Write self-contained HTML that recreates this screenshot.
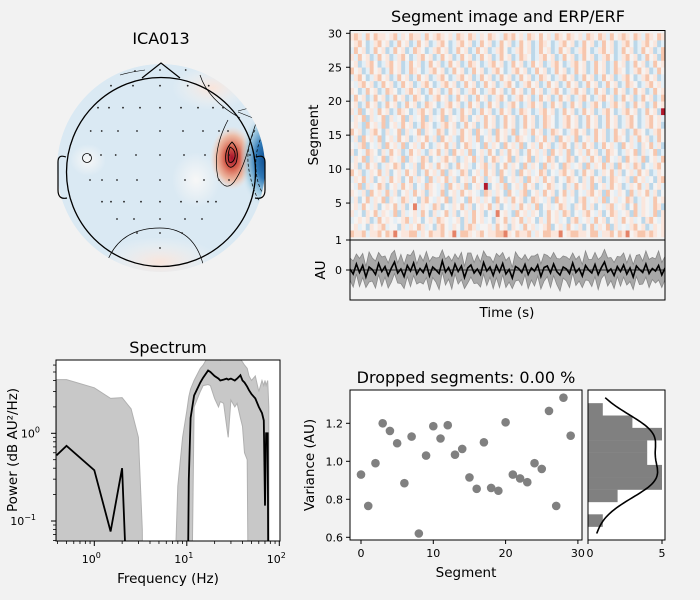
<!DOCTYPE html>
<html><head><meta charset="utf-8"><style>
html,body{margin:0;padding:0;background:#f2f2f2;overflow:hidden;width:700px;height:600px;}
svg{display:block;font-family:"DejaVu Sans","Liberation Sans",sans-serif;}
</style></head><body>
<svg id="fig" width="700" height="600" viewBox="0 0 700 600" xmlns="http://www.w3.org/2000/svg">
<rect width="700" height="600" fill="#f2f2f2"/>
<defs>
  <clipPath id="headClip"><circle cx="161" cy="168" r="104"/></clipPath>
  <clipPath id="specClip"><rect x="56" y="360" width="224" height="181"/></clipPath>
  <clipPath id="erpClip"><rect x="350" y="240" width="315" height="60"/></clipPath>
  <radialGradient id="gRed"><stop offset="0" stop-color="#a50f2a"/><stop offset="0.35" stop-color="#d6604d"/><stop offset="0.7" stop-color="#f4a582" stop-opacity="0.7"/><stop offset="1" stop-color="#fddbc7" stop-opacity="0"/></radialGradient>
  <radialGradient id="gBlue"><stop offset="0" stop-color="#0b4a8c"/><stop offset="0.4" stop-color="#2f79b7"/><stop offset="0.75" stop-color="#92c5de" stop-opacity="0.7"/><stop offset="1" stop-color="#d1e5f0" stop-opacity="0"/></radialGradient>
  <radialGradient id="gPink"><stop offset="0" stop-color="#f9e4da"/><stop offset="1" stop-color="#f7f7f7" stop-opacity="0"/></radialGradient>
  <radialGradient id="gWhite"><stop offset="0" stop-color="#f7f7f7"/><stop offset="1" stop-color="#f7f7f7" stop-opacity="0"/></radialGradient>
</defs>

<g>
  <text x="161" y="44" font-size="16" text-anchor="middle" fill="#000">ICA013</text>
  <g clip-path="url(#headClip)">
    <circle cx="161" cy="168" r="104" fill="#dae9f3"/>
    <ellipse cx="160" cy="262" rx="60" ry="25" fill="url(#gPink)"/>
    <ellipse cx="212" cy="88" rx="40" ry="22" fill="url(#gPink)"/>
    <ellipse cx="88" cy="160" rx="18" ry="16" fill="url(#gWhite)"/>
    <ellipse cx="196" cy="180" rx="24" ry="28" fill="url(#gWhite)"/>
    <ellipse cx="232" cy="158" rx="22" ry="32" fill="url(#gRed)"/>
    <ellipse cx="266" cy="160" rx="26" ry="48" fill="url(#gBlue)"/>
    <path d="M232,142 Q224,150 226,162 Q230,172 236,163 Q240,150 232,142Z" fill="none" stroke="#000" stroke-width="0.9"/>
    <path d="M230,147 Q227,155 229,162 Q233,164 235,157 Q236,150 230,147Z" fill="none" stroke="#000" stroke-width="0.9"/>
    <path d="M228,120 Q212,150 218,178 Q226,192 234,182 Q244,168 250,142 Q254,128 258,118" fill="none" stroke="#000" stroke-width="0.7"/>
    <path d="M255,130 Q244,150 250,175 Q254,195 262,205" fill="none" stroke="#000" stroke-width="0.7" stroke-dasharray="3,2"/>
    <path d="M262,135 Q252,158 258,182 Q262,196 270,200" fill="none" stroke="#000" stroke-width="0.7" stroke-dasharray="3,2"/>
    <path d="M200,75 Q208,100 240,118" fill="none" stroke="#000" stroke-width="0.7"/>
    <path d="M107,262 Q120,228 160,228 Q195,228 204,268" fill="none" stroke="#000" stroke-width="0.7"/>
    <path d="M238,111 L249,108 M238,112 L253,118" fill="none" stroke="#000" stroke-width="0.6"/>
    <path d="M120,75 Q130,72 145,70" fill="none" stroke="#000" stroke-width="0.6"/>
  </g>
  <circle cx="87" cy="158" r="4.5" fill="none" stroke="#000" stroke-width="0.8"/>
  <circle cx="161" cy="172" r="94.5" fill="none" stroke="#000" stroke-width="1.3"/>
  <path d="M142,78 L161,63 L180,78" fill="none" stroke="#000" stroke-width="1.2"/>
  <path d="M66,157 Q58,154 58,162 L58,190 Q58,200 67,198" fill="none" stroke="#000" stroke-width="1.2"/>
  <path d="M256,157 Q265,154 265,162 L265,190 Q265,200 255,198" fill="none" stroke="#000" stroke-width="1.2"/>
  <g id="sensors"></g>
</g>

<g>
  <text x="508" y="22" font-size="16" text-anchor="middle">Segment image and ERP/ERF</text>
  <g id="img"></g>
  <rect x="350" y="30.5" width="315" height="209.5" fill="none" stroke="#000" stroke-width="1"/>
  <g id="imgTicks" font-size="11"></g>
  <text transform="translate(318,135) rotate(-90)" font-size="13.5" text-anchor="middle">Segment</text>
  <g id="erp"></g>
  <rect x="350" y="240" width="315" height="60" fill="none" stroke="#000" stroke-width="1"/>
  <line x1="346" y1="270" x2="350" y2="270" stroke="#000"/>
  <text x="342" y="274" font-size="11" text-anchor="end">0</text>
  <text transform="translate(325,270) rotate(-90)" font-size="13.5" text-anchor="middle">AU</text>
  <text x="507" y="317" font-size="13.5" text-anchor="middle">Time (s)</text>
</g>

<g>
  <text x="168" y="353" font-size="16" text-anchor="middle">Spectrum</text>
  <rect x="56" y="360" width="224" height="181" fill="#fff"/>
  <g id="spec" clip-path="url(#specClip)"></g>
  <rect x="56" y="360" width="224" height="181" fill="none" stroke="#000" stroke-width="1"/>
  <g id="specTicks" font-size="11"></g>
  <text x="168" y="583" font-size="13.5" text-anchor="middle">Frequency (Hz)</text>
  <text transform="translate(17,450) rotate(-90)" font-size="13.5" text-anchor="middle">Power (dB AU²/Hz)</text>
</g>

<g>
  <text x="466" y="383" font-size="16" text-anchor="middle">Dropped segments: 0.00 %</text>
  <rect x="350" y="390" width="232" height="150" fill="#fff" stroke="#000" stroke-width="1"/>
  <g id="scatter"></g>
  <g id="scatterTicks" font-size="11"></g>
  <text x="466" y="577" font-size="13.5" text-anchor="middle">Segment</text>
  <text transform="translate(314,465) rotate(-90)" font-size="13.5" text-anchor="middle">Variance (AU)</text>
  <rect x="588" y="390" width="77" height="150" fill="#fff"/>
  <g id="hist"></g>
  <rect x="588" y="390" width="77" height="150" fill="none" stroke="#000" stroke-width="1"/>
  <g id="histTicks" font-size="11"></g>
</g>
</svg>
<script>
const NS="http://www.w3.org/2000/svg";
function mk(tag,attrs,parent){const e=document.createElementNS(NS,tag);for(const k in attrs)e.setAttribute(k,attrs[k]);parent.appendChild(e);return e;}

const sensorX=[160,185.7,135, 111,133,160,187.7,208.7, 98,109,123,140,160,181,198,213,223, 90.7,101.7,118,137,160,183,203,219,228, 90,101,115.7,136,160,184,205,229,250, 90,102,117,137,160,185,204,219,229, 102,111,124,141,160,181,197,208,216, 117,134,160,185,202, 137,160,182, 160];
const sensorY=[70,70,71, 85.7,85.7,85.7,85.7,85.7, 107.7,107.7,107.7,107.7,107.7,107.7,107.7,107.7,107.7, 131,131,131,131,131,131,131,131,131, 155,155,155,155,155,155,155,155,155, 180,180,180,180,180,180,180,180,180, 201.7,201.7,201.7,201.7,201.7,201.7,201.7,201.7,201.7, 219,219,219,219,219, 233,233,233, 248];
const sg=document.getElementById('sensors');
for(let i=0;i<sensorX.length;i++){
  const c=mk('circle',{cx:sensorX[i],cy:sensorY[i],r:0.9,fill:'#222'},sg);
  
  
}

const imgRows=[
"65563556465745566354655645736654564556675465563546655745665546635564657456656545",
"45342545634425354653425643542565344536452543645345624536435246354625343564523545",
"34545236454345635424536543452536453425463546354253645342563453645245364534256435",
"53425463543625345364253463524536452437453264535423645365243564352465345263543625",
"45364352454635247354365243546352454635243536453624534653254635243563452463543652",
"35246354625436534256435462534264535426453645236543526453425634536245346523543645",
"54352645363524536452543624536454326535426435624536452463524356452643542635463524",
"43625346524536452436543526453624538245362453645234653425364536245364523546352453",
"35463524536452463542635463524536452543624535264536452436542536452365435264534256",
"64523546352453645236453625436524536452643526453465243564523645235463524536452354",
"45236452354652435264536452364532456352463542635426354265345263546352645365243564",
"35462534625436254365243564523546352465346253462534652436524536452643526453624536",
"52436542536452364532546352645362453642536452364535264536245364523654235462534623",
"43562435264536245364235463524653426354264536245364523564253645236453264532546352",
"35264536245364523546352645326453624536452365432546352645362453645236542536452364",
"64523564253462534625436524536452643526453624536452365423564523645236452365423564",
"45326453624536452365423564523645236452364523645236542356452364523645235642356452",
"35462534625346253462534625436524536452364523645236542356452364523645235642356453",
"53624536452365423564523645236452364523645236542356452364523645235642356452364528",
"45236452364523645236542356452364523645235642356452364523645235642356452364523645",
"36452364523645236542356452364523645235642356452364523645235642356452364523645236",
"54236452365423564523645236452356423564523645236452356423564523645236452364523645",
"43564523645236452356423564523645236452356423564523645236452364523645236542356453",
"35642356452364523645235642356452364523645236452365423564523645236452356423564523",
"64523645236452365423564523645236452356423564523645236452364523645236542356452364",
"45235642356452364523645236452365423564523645236452356423564523645236452364523645",
"53645236452356423564523645236452364523645236542356452364523645235642356452364526",
"36452364523645236542356452364523645235642356452364523645235642356452364523645236",
"45642356452364523645235642356452364523645236452365423564523645236452356423564523",
"56536465545635465536456545365465354654365645365464536546545365465364565465365465"
];
const cmap=['#3a7fb9','#6aaed6','#bcd8ea','#e4eff6','#f5f3f2','#fbe6dc','#f7c6ad','#e58267','#b2182b'];
const segTicks=[1,5,10,15,20,25,30];
function ySeg(v){return 237-6.79*v;}
const ig=document.getElementById('img');
for(let r=0;r<imgRows.length;r++){
  const s=imgRows[r], n=s.length, w=315/n;
  const y0=ySeg(r+1), y1=ySeg(r);
  for(let c=0;c<n;c++){
    const rc=mk('rect',{x:350+c*w,y:y0,width:w+0.3,height:y1-y0+0.3,fill:cmap[+s[c]]},ig);
    
    
  }
}
const it=document.getElementById('imgTicks');
segTicks.forEach(v=>{
  const y=v===1?240:ySeg(v);
  mk('line',{x1:346,y1:y,x2:350,y2:y,stroke:'#000'},it);
  const t=mk('text',{x:342,y:y+4,'text-anchor':'end'},it);
  t.textContent=v;
  
  
});

const erpMean=[0.2,-0.8,1.2,-0.5,0.9,-1.4,0.6,0.1,-0.9,1.3,-0.3,0.7,-1.1,0.4,1.6,-0.6,0.2,-1.3,0.9,-0.2,1.4,-0.8,0.3,-0.5,1.1,-1.2,0.6,0.0,-0.7,1.8,-0.4,0.5,-1.0,1.2,-0.3,0.8,-1.5,0.4,1.0,-0.6,0.2,-0.9,1.5,-0.2,0.6,-1.1,0.9,-0.4,1.3,-0.8,0.1,-1.6,0.7,0.3,-0.5,1.1,-0.9,0.4,-0.2,1.0,-1.3,0.5,0.8,-0.6,1.2,-0.3,-1.0,0.6,0.2,-0.7,1.4,-0.5,0.3,-1.2,0.9,0.0,-0.6,1.1,-0.9,0.5,1.6,-0.4,0.2,-1.1,0.7,-0.3,1.0,-0.8,0.4,-1.4,0.8,0.1,-0.5,1.2,-0.7,0.3,-0.2,0.9,-1.0,0.4];
const erpSpread=[2.2,2.6,2.0,2.8,2.4,2.1,3.0,2.3,2.7,2.2,2.9,2.1,2.5,2.8,2.3,2.0,2.9,2.4,2.2,3.1,2.5,2.0,2.7,2.3,2.6,2.9,2.1,2.4,3.2,2.2,2.6,2.3,2.8,2.0,2.5,2.7,2.2,3.0,2.4,2.1,2.8,2.5,2.3,2.9,2.0,2.6,2.4,3.1,2.2,2.7,2.5,2.1,2.9,2.3,2.6,2.0,2.8,2.4,3.0,2.2,2.5,2.7,2.1,2.9,2.3,2.6,3.2,2.2,2.4,2.8,2.0,2.6,2.5,2.3,2.9,2.1,2.7,2.4,3.0,2.2,2.5,2.8,2.3,2.6,2.0,2.9,2.4,2.2,2.7,2.5,2.1,3.0,2.3,2.6,2.8,2.2,2.4,2.9,2.5,2.3];
function xErp(i){return 350+315*i/(erpMean.length-1);}
function yErp(v){return 270-v*5;}
const eg=document.getElementById('erp');
eg.setAttribute('clip-path','url(#erpClip)');
let up='',lo='';
erpMean.forEach((v,i)=>{up+=(i?'L':'M')+xErp(i).toFixed(1)+','+yErp(v+erpSpread[i]).toFixed(1);});
for(let i=erpMean.length-1;i>=0;i--)lo+='L'+xErp(i).toFixed(1)+','+yErp(erpMean[i]-erpSpread[i]).toFixed(1);
const band=mk('path',{d:up+lo+'Z',fill:'#a8a8a8',stroke:'#888','stroke-width':0.8},eg);


mk('line',{x1:350,y1:270,x2:665,y2:270,stroke:'#000','stroke-width':0.8},eg);
const el=mk('path',{d:erpMean.map((v,i)=>(i?'L':'M')+xErp(i).toFixed(1)+','+yErp(v).toFixed(1)).join(''),fill:'none',stroke:'#000','stroke-width':1.6},eg);



const specFreq=[0.39,0.5,1.0,1.5,2.0,2.5,3.0,3.3,3.4, 7.4,7.6,8,9,10,10.5,11,12,14,15,17,18,20,22,23,25,27,28,30,33,35,38,40,42,45,47,50,55,60,65,68,70,72,75,77,78,79];
const specMean=[0.56,0.72,0.38,0.076,0.40,0.001,0.001,0.001,0.001, 0.001,0.001,0.001,0.001,0.001,0.3,1.5,2.7,3.8,4.3,5.2,5.0,4.5,4.2,4.0,4.1,4.2,4.1,4.2,4.0,4.2,4.6,4.0,3.8,3.4,3.1,2.8,2.5,2.0,1.7,1.4,0.15,1.0,1.0,0.001,0.001,0.001];
const specUpper=[4.1,4.1,3.3,2.5,2.55,1.9,0.9,0.08,0.001, 0.001,0.05,0.25,0.9,1.8,2.6,3.2,4.0,5.5,6.0,7.5,7.5,7.2,7.0,6.8,7.0,7.3,7.0,7.2,7.0,7.4,7.0,6.5,6.0,5.5,4.5,4.0,4.5,3.0,4.0,3.5,4.0,3.5,4.0,2.0,0.001,0.001];
const specLower=[0.001,0.001,0.001,0.001,0.001,0.001,0.001,0.001,0.001, 0.001,0.001,0.001,0.001,0.001,0.001,0.001,2.0,3.0,3.5,3.6,3.5,2.5,2.0,2.3,2.2,1.2,0.9,2.4,2.0,2.2,1.5,1.2,0.6,0.5,0.001,0.001,0.001,0.001,0.001,0.001,0.001,0.001,0.001,0.001,0.001,0.001];
const xTicksSpec=[1,10,100];
const xTickLabSpec=['0','1','2'];
const yTicksSpec=[1,0.1];
const yTickLabSpec=['0','−1'];
function xSpec(f){return 94.3+92.5*Math.log10(f);}
function ySpec(p){return 433.3-87.7*Math.log10(p);}
const spg=document.getElementById('spec');
let sd='';
specFreq.forEach((f,i)=>{sd+=(i?'L':'M')+xSpec(f).toFixed(1)+','+ySpec(specUpper[i]).toFixed(1);});
for(let i=specFreq.length-1;i>=0;i--)sd+='L'+xSpec(specFreq[i]).toFixed(1)+','+ySpec(specLower[i]).toFixed(1);
const sband=mk('path',{d:sd+'Z',fill:'#c8c8c8',stroke:'#b0b0b0','stroke-width':1},spg);


const sl=mk('path',{d:specFreq.map((f,i)=>(i?'L':'M')+xSpec(f).toFixed(1)+','+ySpec(specMean[i]).toFixed(1)).join(''),fill:'none',stroke:'#000','stroke-width':1.8},spg);


const stg=document.getElementById('specTicks');
xTicksSpec.forEach((f,i)=>{
  const x=xSpec(f);
  mk('line',{x1:x,y1:541,x2:x,y2:546,stroke:'#000'},stg);
  const t=mk('text',{x:x-3,y:563,'text-anchor':'middle'},stg);
  t.innerHTML='10<tspan dy="-5" font-size="8">'+xTickLabSpec[i]+'</tspan>';
  
  
});
for(let d=-1;d<2;d++){for(let m=2;m<10;m++){const x=xSpec(m*Math.pow(10,d));if(x>56&&x<280)mk('line',{x1:x,y1:541,x2:x,y2:544,stroke:'#000','stroke-width':0.8},stg);}}
yTicksSpec.forEach((p,i)=>{
  const y=ySpec(p);
  mk('line',{x1:51,y1:y,x2:56,y2:y,stroke:'#000'},stg);
  const t=mk('text',{x:i?36:40,y:y+4,'text-anchor':'end'},stg);
  t.innerHTML='10<tspan dy="-5" font-size="8">'+yTickLabSpec[i]+'</tspan>';
  
  
});
for(let d=-2;d<1;d++){for(let m=2;m<10;m++){const y=ySpec(m*Math.pow(10,d));if(y>360&&y<541)mk('line',{x1:53,y1:y,x2:56,y2:y,stroke:'#000','stroke-width':0.8},stg);}}

const segIdx=[0,1,2,3,4,5,6,7,8,9,10,11,12,13,14,15,16,17,18,19,20,21,22,23,24,25,26,27,28,29];
const segVar=[0.93,0.765,0.99,1.2,1.16,1.095,0.885,1.13,0.62,1.03,1.185,1.12,1.19,1.035,1.065,0.915,0.855,1.1,0.86,0.845,1.205,0.93,0.91,0.89,0.99,0.96,1.265,0.765,1.335,1.135];
const varTicks=[0.6,0.8,1.0,1.2];
const varTickLab=['0.6','0.8','1.0','1.2'];
const segXTicks=[0,10,20,30];
function xS(v){return 361+7.23*v;}
function yV(v){return 423.3-(v-1.2)*190;}
const scg=document.getElementById('scatter');
segIdx.forEach((s,i)=>{
  const c=mk('circle',{cx:xS(s),cy:yV(segVar[i]),r:4.3,fill:'#808080'},scg);
  
  
});
const stk=document.getElementById('scatterTicks');
varTicks.forEach((v,i)=>{
  const y=yV(v);
  mk('line',{x1:346,y1:y,x2:350,y2:y,stroke:'#000'},stk);
  const t=mk('text',{x:343,y:y+4,'text-anchor':'end'},stk);
  t.textContent=varTickLab[i];
  
  
});
segXTicks.forEach(v=>{
  const x=xS(v);
  mk('line',{x1:x,y1:540,x2:x,y2:544,stroke:'#000'},stk);
  const t=mk('text',{x:x,y:557,'text-anchor':'middle'},stk);
  t.textContent=v;
  
  
});

const binStart=0.656;
const binWidth=0.065;
const binCounts=[1,0,2,5,5,4,4,5,3,1];
const histTicks=[0,5];
function xH(c){return 588+14.8*c;}
const hg=document.getElementById('hist');
binCounts.forEach((c,i)=>{
  const y0=yV(binStart+(i+1)*binWidth), y1=yV(binStart+i*binWidth);
  const r=mk('rect',{x:588,y:y0,width:xH(c)-588,height:y1-y0+0.2,fill:'#808080'},hg);
  
  
});
const n=segVar.length, mean=segVar.reduce((a,b)=>a+b)/n;
const sdv=Math.sqrt(segVar.reduce((a,b)=>a+(b-mean)*(b-mean),0)/(n-1));
const bw=sdv*Math.pow(n,-0.2);
const vmin=Math.min(...segVar), vmax=Math.max(...segVar);
const kx=[],kv=[];
for(let k=0;k<=80;k++){const v=vmin+(vmax-vmin)*k/80;let s=0;segVar.forEach(p=>{s+=Math.exp(-0.5*((v-p)/bw)**2);});kx.push(v);kv.push(s);}
const kmax=Math.max(...kv);
const kd=kx.map((v,i)=>(i?'L':'M')+xH(kv[i]/kmax*4.7).toFixed(1)+','+yV(v).toFixed(1)).join('');
const kl=mk('path',{d:kd,fill:'none',stroke:'#000','stroke-width':1.6},hg);


const htk=document.getElementById('histTicks');
histTicks.forEach(c=>{
  const x=xH(c);
  mk('line',{x1:x,y1:540,x2:x,y2:544,stroke:'#000'},htk);
  const t=mk('text',{x:c?x:x+2,y:557,'text-anchor':'middle'},htk);
  t.textContent=c;
  
  
});
</script>
</body></html>
